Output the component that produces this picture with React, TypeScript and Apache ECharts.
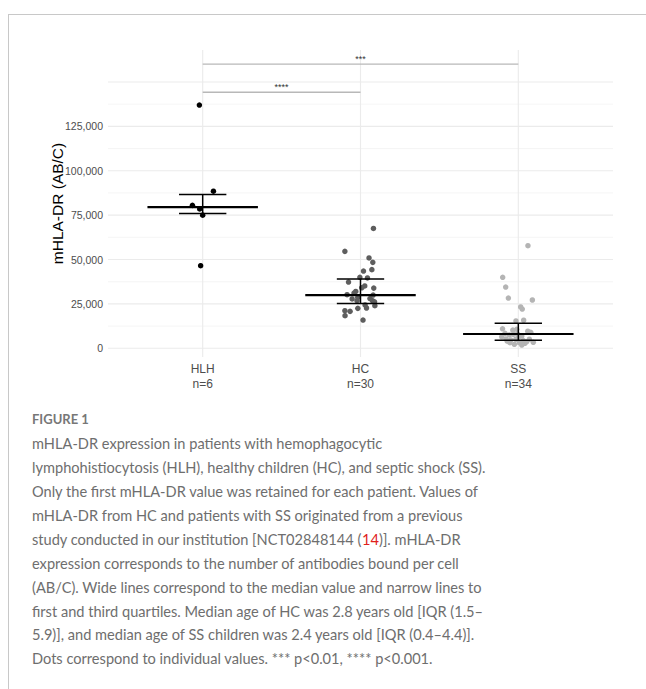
import React, { useEffect, useRef } from "react";
import * as echarts from "echarts";

const categories = ["HLH", "HC", "SS"];
const counts = [6, 30, 34];

const hlhValues = [137000, 88500, 80500, 78500, 75000, 46500];
const hlhJitter = [-0.021, 0.068, -0.065, -0.019, 0.0, -0.013];

const hcValues = [
  67500, 54600, 50900, 48400, 44300, 43500, 40000, 39600, 37300, 35100,
  34100, 33900, 30200, 31100, 28700, 27800, 30000, 26800, 26800, 26200,
  24400, 24000, 22500, 22700, 21200, 20800, 18400, 15900, 32000, 28000,
];
const hcJitter = [
  0.082, -0.099, 0.054, 0.078, 0.072, 0.019, -0.004, 0.044, -0.076, 0.027,
  0.008, 0.084, -0.085, -0.041, -0.017, -0.053, 0.08, -0.022, 0.076, 0.089,
  0.029, 0.091, -0.017, 0.038, -0.099, -0.066, -0.098, 0.016, -0.03, 0.06,
];

const ssValues = [
  57800, 40000, 34500, 28300, 27200, 23300, 22100, 15800, 15400, 11000,
  10300, 10700, 9000, 8450, 7500, 7900, 6900, 6500, 5250, 4700,
  5100, 4300, 5100, 3400, 3150, 3150, 2800, 2250, 1850, 3700,
  6000, 8100, 9600, 4000,
];
const ssJitter = [
  0.061, -0.099, -0.08, -0.063, 0.089, 0.015, 0.025, 0.034, -0.015, -0.1,
  -0.035, -0.01, 0.079, -0.084, -0.057, -0.032, 0.022, -0.105, -0.078, -0.048,
  -0.016, 0.032, 0.07, 0.095, -0.053, 0.006, 0.042, -0.025, 0.022, 0.053,
  0.0, -0.005, 0.06, -0.07,
];

const medians = [79500, 30000, 8050];
const q1s = [75900, 25300, 4500];
const q3s = [86600, 39000, 14100];

const yTickLabels = [0, 25000, 50000, 75000, 100000, 125000];
const yGridMajor = [0, 25000, 50000, 75000, 100000, 125000, 150000];
const yGridMinor = [12500, 37500, 62500, 87500, 112500, 137500];
const xGrid = [1, 2, 3];

const sigFrom = [1, 1];
const sigTo = [2, 3];
const sigY = [144200, 160100];
const sigLabels = ["****", "***"];

const captionLines = [
  "mHLA-DR expression in patients with hemophagocytic",
  "lymphohistiocytosis (HLH), healthy children (HC), and septic shock (SS).",
  "Only the first mHLA-DR value was retained for each patient. Values of",
  "mHLA-DR from HC and patients with SS originated from a previous",
  "study conducted in our institution [NCT02848144 ({r|14})]. mHLA-DR",
  "expression corresponds to the number of antibodies bound per cell",
  "(AB/C). Wide lines correspond to the median value and narrow lines to",
  "first and third quartiles. Median age of HC was 2.8 years old [IQR (1.5–",
  "5.9)], and median age of SS children was 2.4 years old [IQR (0.4–4.4)].",
  "Dots correspond to individual values. *** p<0.01, **** p<0.001.",
];

const pointColors = ["#000000", "#5e5e5e", "#b4b4b4"];

export default function App() {
  const ref = useRef<HTMLDivElement>(null);
  useEffect(() => {
    if (!ref.current) return;
    const chart = echarts.init(ref.current, undefined, { renderer: "svg" });
    const groups = [
      { v: hlhValues, j: hlhJitter },
      { v: hcValues, j: hcJitter },
      { v: ssValues, j: ssJitter },
    ];
    const scatterSeries = groups.map((g, gi) => ({
      type: "scatter",
      name: categories[gi],
      data: g.v.map((val, i) => [gi + 1 + g.j[i], val]),
      symbolSize: 5.5,
      itemStyle: { color: pointColors[gi], opacity: 1 },
      z: 2,
      silent: true,
    }));

    const gridData = [
      ...yGridMinor.map((v) => [0.4, v, 0]),
      ...yGridMajor.map((v) => [0.4, v, 1]),
    ];

    const captionGraphics: any[] = captionLines.map((line, i) => ({
      type: "text",
      x: 32,
      y: 443 + i * 23.9,
      scaleY: 1.08,
      style: {
        text: line,
        fill: "#6e6e6e",
        font: "14.6px Lato",
        verticalAlign: "middle",
        rich: { r: { fill: "#e0201b", font: "14.6px Lato" } },
      },
    }));

    chart.setOption({
      animation: false,
      backgroundColor: "#ffffff",
      grid: { left: 108, right: 33, top: 50, bottom: 332, containLabel: false },
      xAxis: {
        type: "value",
        min: 0.4,
        max: 3.6,
        axisLine: { show: false },
        axisTick: { show: false },
        splitLine: { show: false },
        axisLabel: {
          customValues: [1, 2, 3],
          formatter: (v: number) => {
            const i = Math.round(v) - 1;
            return categories[i] + "\nn=" + counts[i];
          },
          color: "#4d4d4d",
          fontSize: 12,
          lineHeight: 15,
          margin: 4,
          fontFamily: "Liberation Sans",
        },
      },
      yAxis: {
        type: "value",
        min: -4900,
        max: 168000,
        axisLine: { show: false },
        axisTick: { show: false },
        splitLine: { show: false },
        axisLabel: {
          customValues: yTickLabels,
          formatter: (v: number) => v.toLocaleString("en-US"),
          color: "#4d4d4d",
          fontSize: 10.5,
          margin: 5,
          fontFamily: "Liberation Sans",
        },
        name: "mHLA-DR (AB/C)",
        nameLocation: "middle",
        nameGap: 43,
        nameMoveOverlap: false,
        nameTextStyle: { color: "#000", fontSize: 15.5, fontFamily: "Liberation Sans" },
      },
      series: [
        {
          type: "custom",
          silent: true,
          z: 0,
          data: gridData,
          renderItem: (params: any, api: any) => {
            const cs = params.coordSys;
            const y = api.coord([1, api.value(1)])[1];
            const major = api.value(2) === 1;
            return {
              type: "line",
              shape: { x1: cs.x, y1: y, x2: cs.x + cs.width, y2: y },
              style: { stroke: major ? "#ebebeb" : "#f2f2f2", lineWidth: major ? 1.1 : 0.8 },
            };
          },
        },
        {
          type: "custom",
          silent: true,
          z: 0,
          data: xGrid.map((x) => [x, 0]),
          renderItem: (params: any, api: any) => {
            const cs = params.coordSys;
            const x = api.coord([api.value(0), 0])[0];
            return {
              type: "line",
              shape: { x1: x, y1: cs.y, x2: x, y2: cs.y + cs.height },
              style: { stroke: "#ebebeb", lineWidth: 1.1 },
            };
          },
        },
        ...scatterSeries,
        {
          type: "custom",
          silent: true,
          z: 4,
          data: medians.map((m, i) => [i + 1, m, q1s[i], q3s[i]]),
          renderItem: (params: any, api: any) => {
            const c = api.value(0);
            const m = api.value(1);
            const a = api.value(2);
            const b = api.value(3);
            const ml = api.coord([c - 0.35, m]);
            const mr = api.coord([c + 0.35, m]);
            const al = api.coord([c - 0.15, a]);
            const ar = api.coord([c + 0.15, a]);
            const bl = api.coord([c - 0.15, b]);
            const br = api.coord([c + 0.15, b]);
            const ca = api.coord([c, a]);
            const cb = api.coord([c, b]);
            const st = { stroke: "#000", lineWidth: 1.5 };
            return {
              type: "group",
              children: [
                { type: "line", shape: { x1: ml[0], y1: ml[1], x2: mr[0], y2: mr[1] }, style: { stroke: "#000", lineWidth: 2.2 } },
                { type: "line", shape: { x1: al[0], y1: al[1], x2: ar[0], y2: ar[1] }, style: st },
                { type: "line", shape: { x1: bl[0], y1: bl[1], x2: br[0], y2: br[1] }, style: st },
                { type: "line", shape: { x1: ca[0], y1: ca[1], x2: cb[0], y2: cb[1] }, style: st },
              ],
            };
          },
        },
        {
          type: "custom",
          silent: true,
          z: 4,
          data: sigFrom.map((f, i) => [f, sigY[i], sigTo[i]]),
          renderItem: (params: any, api: any) => {
            const p1 = api.coord([api.value(0), api.value(1)]);
            const p2 = api.coord([api.value(2), api.value(1)]);
            return {
              type: "group",
              children: [
                { type: "line", shape: { x1: p1[0], y1: p1[1], x2: p2[0], y2: p2[1] }, style: { stroke: "#b8b8b8", lineWidth: 1.3 } },
                {
                  type: "text",
                  x: (p1[0] + p2[0]) / 2,
                  y: p1[1] - 1,
                  style: {
                    text: sigLabels[params.dataIndex],
                    fill: "#333",
                    font: "9px Liberation Sans",
                    align: "center",
                    verticalAlign: "bottom",
                  },
                },
              ],
            };
          },
        },
      ],
      graphic: [
        { type: "line", shape: { x1: 8.5, y1: 14, x2: 8.5, y2: 689 }, style: { stroke: "#c8c8c8", lineWidth: 1 } },
        { type: "line", shape: { x1: 8, y1: 14.5, x2: 646, y2: 14.5 }, style: { stroke: "#c8c8c8", lineWidth: 1 } },
        {
          type: "text",
          x: 32,
          y: 419,
          style: { text: "FIGURE 1", fill: "#777", font: "bold 13px Lato", verticalAlign: "middle" },
        },
        ...captionGraphics,
      ],
    });
    return () => chart.dispose();
  }, []);
  return (
    <div
      ref={ref}
      style={{ position: "absolute", left: 0, top: 0, width: 646, height: 689 }}
    />
  );
}
